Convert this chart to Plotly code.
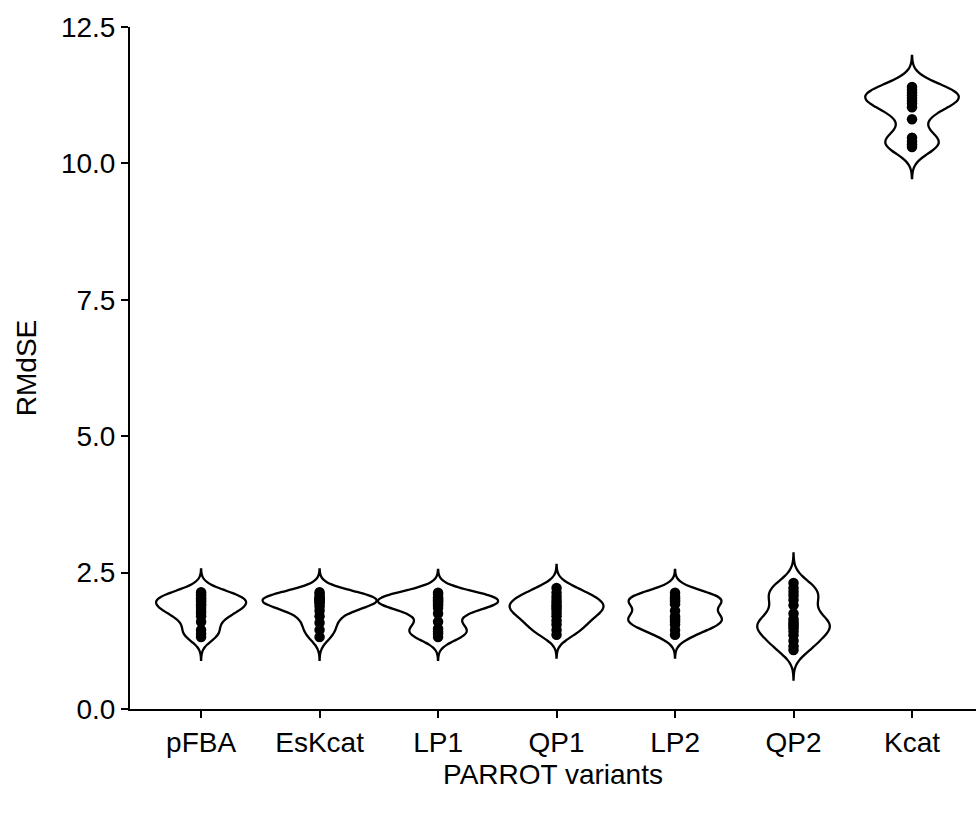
import plotly.graph_objects as go

categories = ["pFBA", "EsKcat", "LP1", "QP1", "LP2", "QP2", "Kcat"]

pFBA = [1.32, 1.38, 1.45, 1.6, 1.7, 1.76, 1.8, 1.85, 1.9, 1.93, 1.97, 2.0, 2.03, 2.07, 2.1, 2.14]
EsKcat = [1.32, 1.45, 1.58, 1.7, 1.8, 1.88, 1.93, 1.96, 1.98, 2.0, 2.01, 2.03, 2.05, 2.1, 2.14]
LP1 = [1.32, 1.38, 1.42, 1.47, 1.6, 1.75, 1.85, 1.9, 1.93, 1.96, 1.98, 2.0, 2.02, 2.05, 2.1, 2.13]
QP1 = [1.36, 1.45, 1.55, 1.62, 1.7, 1.76, 1.82, 1.86, 1.9, 1.95, 2.0, 2.06, 2.13, 2.22]
LP2 = [1.36, 1.45, 1.55, 1.6, 1.63, 1.66, 1.7, 1.8, 1.92, 1.97, 2.0, 2.03, 2.07, 2.13]
QP2 = [1.08, 1.15, 1.25, 1.35, 1.42, 1.48, 1.52, 1.56, 1.6, 1.65, 1.75, 1.9, 2.0, 2.08, 2.15, 2.22, 2.31]
Kcat = [10.3, 10.35, 10.4, 10.47, 10.81, 11.03, 11.1, 11.15, 11.2, 11.25, 11.3, 11.35, 11.4]

series = [pFBA, EsKcat, LP1, QP1, LP2, QP2, Kcat]
bandwidths = [0.14, 0.14, 0.14, 0.14, 0.14, 0.18, 0.19]
widths = [0.76, 0.96, 1.01, 0.79, 0.79, 0.61, 0.79]

y_ticks = [0.0, 2.5, 5.0, 7.5, 10.0, 12.5]

fig = go.Figure()
for cat, vals, bw, w in zip(categories, series, bandwidths, widths):
    fig.add_trace(go.Violin(
        x=[cat] * len(vals), y=vals,
        bandwidth=bw, spanmode="manual", span=[min(vals) - 3 * bw, max(vals) + 3 * bw],
        width=w, scalemode="width",
        line=dict(color="black", width=2.3), fillcolor="rgba(255,255,255,0)",
        points=False, box_visible=False, meanline_visible=False,
        hoverinfo="skip", showlegend=False,
    ))
    fig.add_trace(go.Scatter(
        x=[cat] * len(vals), y=vals, mode="markers",
        marker=dict(color="black", size=10.5), showlegend=False,
    ))

font = dict(family="Liberation Sans, Arial, sans-serif", size=28, color="black")
fig.update_layout(
    width=976, height=816,
    margin=dict(l=130, r=0, t=27, b=107),
    plot_bgcolor="white", paper_bgcolor="white",
    violinmode="overlay",
    font=font,
    xaxis=dict(
        type="category", categoryorder="array", categoryarray=categories,
        range=[-0.6, 6.54], showline=True, linecolor="black", linewidth=2,
        ticks="outside", ticklen=7, tickwidth=2, tickcolor="black",
        showgrid=False, zeroline=False,
        title=dict(text="PARROT variants", font=font, standoff=8),
        tickfont=font,
    ),
    yaxis=dict(
        range=[0, 12.5], tickvals=y_ticks, tickformat=".1f",
        showline=True, linecolor="black", linewidth=2,
        ticks="outside", ticklen=7, tickwidth=2, tickcolor="black",
        showgrid=False, zeroline=False,
        title=dict(text="RMdSE", font=font, standoff=16),
        tickfont=font,
    ),
)

fig.write_html("out.html")
